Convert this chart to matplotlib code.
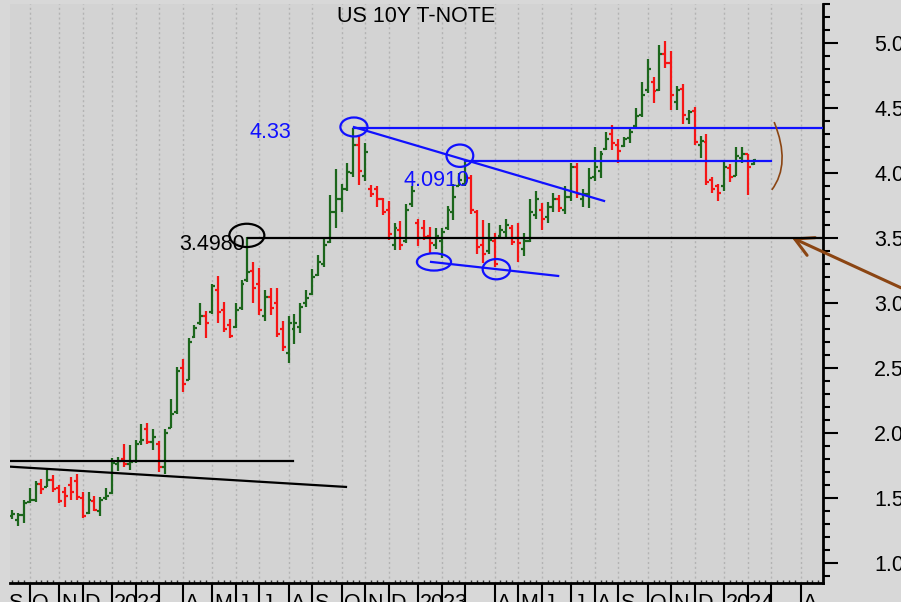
import matplotlib
matplotlib.use('Agg')
import matplotlib.pyplot as plt
import numpy as np
import pandas as pd
from matplotlib.patches import Ellipse, PathPatch
from matplotlib.path import Path
from matplotlib.ticker import MultipleLocator

plt.rcParams['font.family'] = ['Liberation Sans', 'DejaVu Sans']

# barras semanais (sexta-feira), a partir de 10/09/2021
first_week = '2021-09-10'

opens = [1.36, 1.33, 1.37, 1.47, 1.49, 1.61, 1.59, 1.64, 1.58, 1.55,
         1.60, 1.63, 1.50, 1.39, 1.48, 1.40, 1.50, 1.54, 1.76, 1.80,
         1.76, 1.79, 1.93, 2.03, 1.93, 1.92, 1.74, 2.04, 2.16, 2.50,
         2.41, 2.74, 2.85, 2.90, 2.93, 3.10, 2.95, 2.83, 2.82, 2.96,
         3.18, 3.25, 3.15, 2.90, 3.05, 3.00, 2.80, 2.62, 2.80, 2.82,
         3.00, 3.07, 3.22, 3.30, 3.47, 3.70, 3.80, 3.88, 4.00, 4.22,
         3.98, 3.88, 3.88, 3.80, 3.72, 3.45, 3.56, 3.48, 3.76, 3.62,
         3.58, 3.52, 3.45, 3.48, 3.58, 3.70, 3.90, 3.92, 3.96, 3.70,
         3.45, 3.40, 3.48, 3.52, 3.55, 3.58, 3.50, 3.42, 3.48, 3.68,
         3.72, 3.66, 3.74, 3.80, 3.72, 3.82, 4.05, 3.80, 3.84, 3.97,
         4.02, 4.19, 4.30, 4.22, 4.21, 4.27, 4.36, 4.45, 4.64, 4.70,
         4.64, 4.92, 4.85, 4.55, 4.65, 4.42, 4.48, 4.22, 4.24, 3.95,
         3.90, 3.90, 4.04, 3.98, 4.12, 4.15, 4.07]
highs = [1.41, 1.39, 1.49, 1.58, 1.63, 1.65, 1.72, 1.68, 1.60, 1.59,
         1.66, 1.69, 1.55, 1.55, 1.52, 1.51, 1.58, 1.81, 1.82, 1.92,
         1.91, 1.95, 2.07, 2.08, 2.03, 1.94, 2.03, 2.26, 2.51, 2.57,
         2.73, 2.83, 3.00, 2.94, 3.15, 3.21, 3.01, 2.88, 3.00, 3.18,
         3.51, 3.32, 3.27, 3.10, 3.12, 3.12, 2.86, 2.90, 2.92, 3.00,
         3.10, 3.26, 3.37, 3.50, 3.83, 4.03, 3.92, 4.08, 4.35, 4.29,
         4.23, 3.91, 3.90, 3.81, 3.79, 3.62, 3.63, 3.76, 3.90, 3.65,
         3.64, 3.59, 3.58, 3.58, 3.75, 3.92, 4.00, 4.09, 3.99, 3.72,
         3.64, 3.62, 3.54, 3.60, 3.65, 3.60, 3.62, 3.54, 3.80, 3.86,
         3.77, 3.78, 3.85, 3.83, 3.90, 4.08, 4.08, 3.88, 4.04, 4.20,
         4.17, 4.32, 4.37, 4.26, 4.28, 4.34, 4.50, 4.70, 4.88, 4.74,
         4.99, 5.02, 4.94, 4.67, 4.69, 4.49, 4.51, 4.29, 4.30, 3.97,
         3.92, 4.10, 4.07, 4.20, 4.20, 4.15, 4.11]
lows = [1.34, 1.29, 1.31, 1.46, 1.47, 1.53, 1.59, 1.55, 1.46, 1.43,
        1.49, 1.49, 1.35, 1.38, 1.40, 1.36, 1.49, 1.53, 1.71, 1.74,
        1.72, 1.77, 1.91, 1.92, 1.87, 1.70, 1.69, 2.04, 2.15, 2.32,
        2.41, 2.73, 2.83, 2.73, 2.92, 2.85, 2.78, 2.73, 2.81, 2.95,
        3.16, 3.00, 2.91, 2.86, 2.91, 2.74, 2.63, 2.54, 2.69, 2.77,
        2.97, 3.06, 3.21, 3.28, 3.46, 3.58, 3.70, 3.86, 3.97, 3.91,
        3.94, 3.82, 3.74, 3.68, 3.49, 3.41, 3.41, 3.46, 3.74, 3.44,
        3.49, 3.39, 3.42, 3.35, 3.56, 3.64, 3.90, 3.90, 3.69, 3.38,
        3.31, 3.38, 3.28, 3.51, 3.50, 3.45, 3.32, 3.36, 3.47, 3.65,
        3.56, 3.62, 3.70, 3.70, 3.69, 3.79, 3.81, 3.74, 3.73, 3.94,
        3.96, 4.18, 4.18, 4.08, 4.20, 4.23, 4.35, 4.43, 4.62, 4.54,
        4.63, 4.81, 4.49, 4.49, 4.38, 4.38, 4.22, 4.12, 3.91, 3.85,
        3.79, 3.86, 3.93, 3.98, 4.08, 3.83, 4.06]
closes = [1.38, 1.37, 1.46, 1.49, 1.61, 1.57, 1.64, 1.57, 1.48, 1.52,
          1.55, 1.51, 1.36, 1.49, 1.41, 1.49, 1.52, 1.77, 1.79, 1.76,
          1.78, 1.92, 1.95, 1.93, 1.97, 1.74, 2.00, 2.15, 2.48, 2.38,
          2.70, 2.81, 2.90, 2.85, 3.13, 2.93, 2.80, 2.75, 2.95, 3.15,
          3.24, 3.12, 2.95, 3.05, 2.96, 2.76, 2.66, 2.85, 2.85, 2.97,
          3.04, 3.20, 3.32, 3.45, 3.70, 3.80, 3.88, 4.01, 4.22, 4.02,
          4.16, 3.84, 3.80, 3.70, 3.53, 3.58, 3.45, 3.72, 3.86, 3.50,
          3.51, 3.46, 3.52, 3.55, 3.72, 3.82, 3.95, 3.97, 3.72, 3.43,
          3.38, 3.49, 3.30, 3.56, 3.60, 3.47, 3.46, 3.48, 3.70, 3.80,
          3.65, 3.74, 3.80, 3.73, 3.82, 4.05, 3.84, 3.84, 3.96, 4.05,
          4.15, 4.26, 4.23, 4.17, 4.26, 4.32, 4.44, 4.60, 4.80, 4.63,
          4.92, 4.85, 4.60, 4.64, 4.45, 4.47, 4.24, 4.25, 3.93, 3.88,
          3.85, 4.05, 3.97, 4.13, 4.15, 4.05, 4.10]

month_letters = ['', '', '', 'A', 'M', 'J', 'J', 'A', 'S', 'O', 'N', 'D']

# linhas desenhadas no grafico (semana, nivel)
level_433 = 4.35
level_409 = 4.095
level_35 = 3.505
level_179 = 1.79
trend_top = ([58.1, 100.6], [4.355, 3.787])
trend_low = ([71.2, 92.8], [3.318, 3.21])
trend_old = ([-0.2, 56.75], [1.743, 1.587])
blue_marks = [(58.1, 4.356, 4.6, 0.146), (76.1, 4.135, 4.55, 0.172),
              (71.7, 3.318, 5.8, 0.133), (82.3, 3.262, 4.65, 0.156)]
black_mark = (39.9, 3.522, 5.95, 0.179)

up_color = '#1c661c'
down_color = '#f51515'
blue = '#1010ff'
brown = '#8b4513'

x_min, x_max = -0.34, 137.8
y_min, y_max = 0.848, 5.302

n = len(closes)
xs = np.arange(n)
colors = [up_color if c >= o else down_color for o, c in zip(opens, closes)]

fig = plt.figure(figsize=(9.01, 6.02), dpi=100, facecolor='#d8d8d8')
ax = fig.add_axes([10 / 901, 19 / 602, 813 / 901, 579 / 602])
ax.set_facecolor('#d3d3d3')

# barras OHLC
ax.vlines(xs, lows, highs, colors=colors, lw=1.6, zorder=3)
ax.hlines(opens, xs - 0.5, xs, colors=colors, lw=1.6, zorder=3)
ax.hlines(closes, xs, xs + 0.5, colors=colors, lw=1.6, zorder=3)

ax.set_xlim(x_min, x_max)
ax.set_ylim(y_min, y_max)

# eixo x: meses
fridays = pd.date_range(pd.Timestamp(first_week) - pd.Timedelta(days=7), periods=145, freq='W-FRI')
week_idx = np.arange(len(fridays)) - 1
month_pos = []
month_lab = []
prev = None
for d, w in zip(fridays, week_idx):
    if d.month != prev:
        month_pos.append(w)
        month_lab.append(str(d.year) if d.month == 1 else month_letters[d.month - 1])
    prev = d.month
month_pos = [p for p in month_pos if p <= x_max]
month_lab = month_lab[:len(month_pos)]

ax.set_xticks([p for p in month_pos if p >= x_min])
ax.set_xticklabels([])
ax.xaxis.set_minor_locator(MultipleLocator(1))
ax.tick_params(axis='x', which='major', direction='out', length=16, width=1.5, color='black')
ax.tick_params(axis='x', which='minor', direction='in', length=2.5, width=1, color='#333333')
for p, lab in zip(month_pos, month_lab):
    ax.annotate(lab, xy=(p, 0), xycoords=('data', 'axes fraction'), xytext=(1.5, -7.5),
                textcoords='offset points', ha='left', va='top', fontsize=15.5,
                annotation_clip=False)

ax.grid(axis='x', which='major', color='#b3b3b3', linestyle=(0, (1.5, 2)), lw=1)
ax.set_axisbelow(True)

# eixo y a direita
ax.yaxis.tick_right()
ax.set_yticks(np.arange(1.0, 5.01, 0.5))
ax.set_yticklabels([f'{v:.1f}' for v in np.arange(1.0, 5.01, 0.5)])
ax.yaxis.set_minor_locator(MultipleLocator(0.1))
ax.tick_params(axis='y', which='major', direction='out', length=10.8, width=1.5, pad=26, labelsize=15.5)
ax.tick_params(axis='y', which='minor', direction='out', length=5, width=1.5)

for s in ['left', 'top']:
    ax.spines[s].set_visible(False)
ax.spines['right'].set_linewidth(2)
ax.spines['bottom'].set_linewidth(2)

# linhas de suporte / resistencia
ax.plot([trend_top[0][0], x_max], [level_433, level_433], color=blue, lw=1.6, zorder=4)
ax.plot([77.0, 129.0], [level_409, level_409], color=blue, lw=1.6, zorder=4)
ax.plot(trend_top[0], trend_top[1], color=blue, lw=1.6, zorder=4)
ax.plot(trend_low[0], trend_low[1], color=blue, lw=1.6, zorder=4)
ax.plot([40.1, x_max], [level_35, level_35], color='black', lw=1.6, zorder=4)
ax.plot([x_min, 47.75], [level_179, level_179], color='black', lw=1.6, zorder=4)
ax.plot([x_min, trend_old[0][1]], trend_old[1], color='black', lw=1.6, zorder=4)

for cx, cy, w, h in blue_marks:
    ax.add_patch(Ellipse((cx, cy), w, h, fill=False, edgecolor=blue, lw=1.6, zorder=5))
ax.add_patch(Ellipse(black_mark[:2], black_mark[2], black_mark[3], fill=False,
                     edgecolor='black', lw=1.6, zorder=5))

ax.text(40.3, 4.316, '4.33', color=blue, fontsize=15.5, ha='left', va='center', zorder=6)
ax.text(66.6, 3.948, '4.0910', color=blue, fontsize=15.5, ha='left', va='center', zorder=6)
ax.text(28.5, 3.455, '3.4980', color='black', fontsize=15.5, ha='left', va='center', zorder=6)
ax.text(0.5, 0.979, 'US 10Y T-NOTE', transform=ax.transAxes, fontsize=15.5,
        ha='center', va='center')

# parentese castanho e seta
arc = Path([(129.5, 4.394), (132.4, 4.071), (129.1, 3.872)],
           [Path.MOVETO, Path.CURVE3, Path.CURVE3])
ax.add_patch(PathPatch(arc, fill=False, edgecolor=brown, lw=1.2, zorder=5))
ax.annotate('', xy=(132.5, level_35), xytext=(151.1, 3.118), annotation_clip=False,
            arrowprops=dict(arrowstyle='->,head_length=1.3,head_width=0.7', color=brown,
                            lw=2.2, mutation_scale=10, shrinkA=0, shrinkB=0))

fig.savefig('out.png', dpi=100, facecolor=fig.get_facecolor())
